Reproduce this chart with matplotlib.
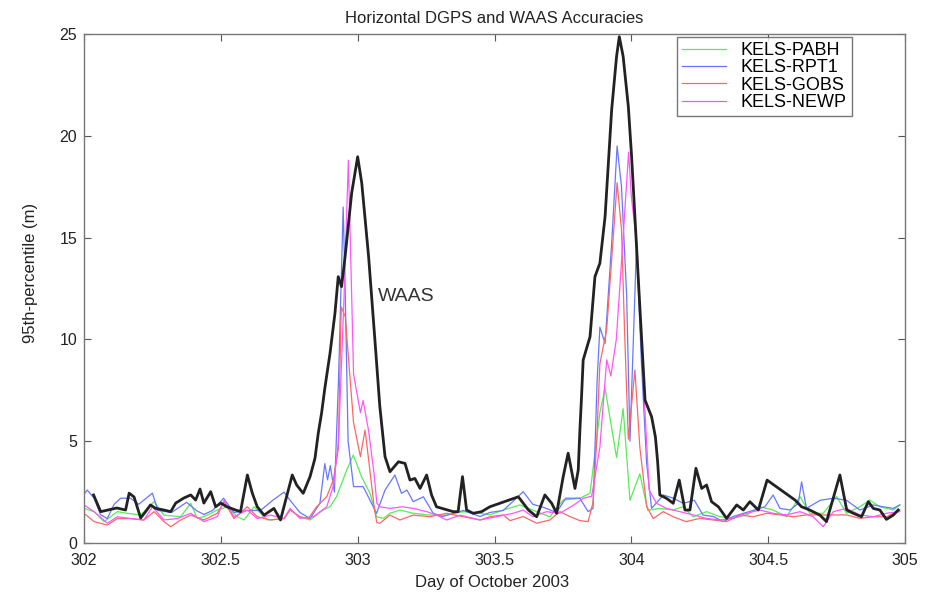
import matplotlib
matplotlib.use("Agg")
import matplotlib.pyplot as plt

plt.rcParams['font.family'] = ['Liberation Sans', 'DejaVu Sans']

# ---------------- data ----------------
waas_t = [302.035, 302.061, 302.12, 302.152, 302.165, 302.183, 302.207, 302.225, 302.243, 302.262,
          302.292, 302.317, 302.335, 302.365, 302.39, 302.408, 302.424, 302.438, 302.463, 302.481,
          302.5, 302.522, 302.554, 302.572, 302.597, 302.615, 302.633, 302.658, 302.694, 302.718,
          302.761, 302.777, 302.801, 302.826, 302.844, 302.856, 302.868, 302.88, 302.899, 302.917,
          302.929, 302.941, 302.954, 302.978, 303.0, 303.015, 303.04, 303.063, 303.081, 303.1,
          303.118, 303.149, 303.173, 303.191, 303.209, 303.228, 303.252, 303.27, 303.288, 303.349,
          303.367, 303.383, 303.398, 303.422, 303.453, 303.483, 303.587, 303.624, 303.654, 303.684,
          303.709, 303.727, 303.751, 303.769, 303.794, 303.806, 303.812, 303.818, 303.824, 303.849,
          303.867, 303.885, 303.904, 303.928, 303.946, 303.956, 303.97, 303.989, 304.001, 304.013,
          304.031, 304.05, 304.074, 304.088, 304.096, 304.104, 304.129, 304.153, 304.175, 304.196,
          304.214, 304.236, 304.257, 304.275, 304.293, 304.318, 304.348, 304.385, 304.409, 304.433,
          304.464, 304.496, 304.598, 304.622, 304.652, 304.689, 304.713, 304.762, 304.787, 304.811,
          304.841, 304.866, 304.884, 304.908, 304.932, 304.957, 304.975]
waas_v = [2.36, 1.54, 1.72, 1.62, 2.45, 2.26, 1.23, 1.54, 1.87, 1.70,
          1.62, 1.54, 1.96, 2.21, 2.36, 2.11, 2.65, 1.96, 2.52, 1.78,
          1.96, 1.78, 1.62, 1.54, 3.34, 2.45, 1.78, 1.37, 1.70, 1.13,
          3.34, 2.85, 2.44, 3.26, 4.16, 5.39, 6.37, 7.6, 9.32, 11.28,
          13.08, 12.59, 14.06, 17.18, 18.97, 17.67, 14.06, 9.97, 6.70, 4.24,
          3.50, 3.99, 3.91, 3.09, 3.17, 2.68, 3.34, 2.36, 1.78, 1.54,
          1.54, 3.26, 1.62, 1.46, 1.54, 1.78, 2.27, 1.62, 1.29, 2.36,
          1.95, 1.46, 3.26, 4.41, 2.68, 3.59, 5.55, 7.19, 8.99, 10.13,
          13.08, 13.74, 16.03, 21.27, 23.9, 24.87, 23.9, 21.43, 18.97, 16.03,
          11.6, 7.02, 6.2, 5.2, 4.0, 2.36, 2.19, 1.95, 3.09, 1.62,
          1.62, 3.67, 2.68, 2.85, 2.03, 1.78, 1.21, 1.87, 1.62, 2.03,
          1.62, 3.09, 2.11, 1.78, 1.62, 1.37, 1.05, 3.34, 1.62, 1.46,
          1.29, 2.03, 1.70, 1.62, 1.16, 1.37, 1.62]

pabh_t = [302.0, 302.037, 302.073, 302.122, 302.158, 302.207, 302.256, 302.292, 302.353, 302.39,
          302.414, 302.451, 302.487, 302.524, 302.56, 302.585, 302.621, 302.67, 302.731, 302.753,
          302.789, 302.826, 302.874, 302.899, 302.923, 302.96, 302.984, 303.014, 303.045, 303.069,
          303.094, 303.118, 303.154, 303.203, 303.264, 303.325, 303.386, 303.447, 303.483, 303.532,
          303.593, 303.654, 303.702, 303.751, 303.812, 303.849, 303.885, 303.904, 303.946, 303.97,
          303.995, 304.031, 304.06, 304.104, 304.153, 304.189, 304.226, 304.275, 304.323, 304.372,
          304.421, 304.47, 304.518, 304.567, 304.616, 304.652, 304.701, 304.75, 304.786, 304.835,
          304.871, 304.908, 304.957, 304.981]
pabh_v = [1.70, 1.54, 1.05, 1.54, 1.46, 1.37, 2.03, 1.37, 1.29, 1.95,
          1.20, 1.37, 1.62, 1.78, 1.29, 1.13, 1.78, 1.13, 1.20, 1.62,
          1.29, 1.13, 1.62, 1.78, 2.28, 3.59, 4.32, 3.26, 2.44, 1.29,
          1.21, 1.46, 1.62, 1.46, 1.37, 1.37, 1.54, 1.46, 1.38, 1.62,
          1.87, 1.54, 1.29, 2.11, 2.20, 2.44, 6.4, 7.6, 4.2, 6.6,
          2.1, 3.4, 1.6, 1.70, 1.62, 1.78, 1.29, 1.54, 1.29, 1.21,
          1.38, 1.78, 1.62, 1.29, 2.28, 1.46, 1.46, 2.28, 1.46, 1.78,
          2.11, 1.78, 1.62, 1.87]

rpt1_t = [302.0, 302.012, 302.037, 302.06, 302.085, 302.11, 302.134, 302.17, 302.2, 302.25,
          302.27, 302.32, 302.375, 302.41, 302.438, 302.47, 302.51, 302.548, 302.6, 302.645,
          302.69, 302.731, 302.753, 302.789, 302.826, 302.862, 302.88, 302.89, 302.9, 302.915,
          302.93, 302.947, 302.955, 302.965, 302.985, 303.02, 303.069, 303.1, 303.136, 303.16,
          303.18, 303.203, 303.24, 303.276, 303.31, 303.386, 303.447, 303.483, 303.532, 303.605,
          303.64, 303.673, 303.727, 303.76, 303.812, 303.842, 303.86, 303.875, 303.885, 303.904,
          303.928, 303.948, 303.964, 303.983, 303.995, 304.019, 304.037, 304.056, 304.074, 304.117,
          304.153, 304.19, 304.23, 304.262, 304.3, 304.336, 304.372, 304.41, 304.45, 304.488,
          304.518, 304.543, 304.58, 304.61, 304.622, 304.64, 304.69, 304.74, 304.786, 304.835,
          304.884, 304.92, 304.957, 304.981]
rpt1_v = [2.4, 2.6, 2.2, 1.4, 1.2, 1.9, 2.2, 2.2, 1.9, 2.45,
          1.6, 1.5, 2.0, 1.6, 1.4, 1.6, 2.2, 1.5, 1.6, 1.6,
          2.1, 2.5, 2.1, 1.5, 1.2, 1.95, 3.9, 3.1, 3.8, 2.5,
          8.0, 16.5, 12.0, 5.0, 2.77, 2.77, 1.46, 2.6, 3.34, 2.44,
          2.6, 2.03, 2.27, 1.46, 1.3, 1.6, 1.3, 1.5, 1.6, 2.52,
          1.9, 1.78, 1.5, 2.2, 2.2, 1.54, 1.7, 8.0, 10.6, 9.8,
          14.7, 19.5, 17.5, 12.1, 5.0, 14.7, 8.8, 3.9, 1.7, 2.36,
          2.2, 1.95, 2.1, 1.37, 1.3, 1.05, 1.3, 1.46, 1.62, 1.78,
          2.36, 1.7, 1.62, 1.95, 3.0, 1.7, 2.1, 2.2, 2.1, 1.62,
          1.87, 1.78, 1.7, 1.87]

gobs_t = [302.0, 302.037, 302.085, 302.122, 302.17, 302.219, 302.256, 302.292, 302.317, 302.353,
          302.39, 302.438, 302.487, 302.512, 302.548, 302.597, 302.633, 302.682, 302.731, 302.753,
          302.789, 302.82, 302.85, 302.887, 302.911, 302.929, 302.94, 302.955, 302.966, 302.985,
          303.01, 303.027, 303.04, 303.06, 303.07, 303.081, 303.118, 303.154, 303.203, 303.264,
          303.325, 303.386, 303.447, 303.483, 303.532, 303.557, 303.605, 303.654, 303.702, 303.739,
          303.775, 303.812, 303.842, 303.86, 303.873, 303.885, 303.91, 303.948, 303.964, 303.975,
          303.989, 304.013, 304.031, 304.056, 304.08, 304.116, 304.153, 304.2, 304.25, 304.299,
          304.348, 304.397, 304.445, 304.494, 304.543, 304.592, 304.64, 304.689, 304.738, 304.786,
          304.835, 304.884, 304.932, 304.981]
gobs_v = [1.46, 1.05, 0.88, 1.2, 1.2, 1.13, 1.54, 1.05, 0.8, 1.13,
          1.37, 1.13, 1.46, 2.03, 1.2, 1.78, 1.29, 1.13, 1.2, 1.62,
          1.29, 1.21, 1.78, 2.28, 3.1, 4.6, 11.6, 11.1, 9.15, 5.9,
          4.24, 5.55, 4.1, 1.8, 1.0, 0.97, 1.37, 1.13, 1.37, 1.29,
          1.46, 1.29, 1.13, 1.29, 1.38, 1.1, 1.3, 0.97, 1.13, 1.54,
          1.3, 1.1, 1.05, 2.0, 4.9, 8.8, 10.5, 17.7, 15.4, 10.5,
          5.1, 8.5, 4.7, 1.8, 1.2, 1.54, 1.29, 1.05, 1.21, 1.13,
          1.05, 1.38, 1.29, 1.46, 1.38, 1.29, 1.38, 1.38, 1.38, 1.38,
          1.21, 1.29, 1.29, 1.62]

newp_t = [302.0, 302.037, 302.085, 302.122, 302.17, 302.219, 302.25, 302.292, 302.341, 302.39,
          302.438, 302.487, 302.512, 302.548, 302.597, 302.633, 302.682, 302.731, 302.753, 302.789,
          302.838, 302.887, 302.911, 302.93, 302.95, 302.966, 302.985, 303.01, 303.02, 303.04,
          303.06, 303.07, 303.081, 303.118, 303.165, 303.203, 303.252, 303.288, 303.325, 303.374,
          303.422, 303.447, 303.507, 303.568, 303.605, 303.64, 303.69, 303.739, 303.79, 303.825,
          303.855, 303.885, 303.91, 303.925, 303.945, 303.965, 303.99, 304.0, 304.02, 304.035,
          304.05, 304.065, 304.092, 304.128, 304.177, 304.226, 304.275, 304.323, 304.372, 304.421,
          304.47, 304.518, 304.567, 304.616, 304.664, 304.701, 304.738, 304.786, 304.835, 304.884,
          304.932, 304.981]
newp_v = [1.87, 1.54, 0.97, 1.29, 1.2, 1.13, 1.78, 1.13, 1.2, 1.46,
          1.05, 1.29, 2.11, 1.29, 1.62, 1.2, 1.37, 1.2, 1.70, 1.21,
          1.29, 1.78, 2.8, 5.0, 12.0, 18.8, 8.3, 6.4, 7.0, 5.5,
          3.4, 1.96, 1.78, 1.70, 1.78, 1.70, 1.54, 1.37, 1.13, 1.37,
          1.21, 1.13, 1.29, 1.46, 1.62, 1.29, 1.54, 1.46, 1.87, 2.2,
          2.3, 4.7, 9.0, 8.2, 10.0, 14.0, 19.2, 17.0, 14.7, 10.5,
          6.4, 2.6, 1.95, 1.70, 1.54, 1.38, 1.21, 1.13, 1.21, 1.46,
          1.62, 1.46, 1.38, 1.54, 1.29, 0.8, 1.54, 1.70, 1.38, 1.29,
          1.46, 1.54]

x_ticks = [302, 302.5, 303, 303.5, 304, 304.5, 305]
x_tick_labels = ["302", "302.5", "303", "303.5", "304", "304.5", "305"]
y_ticks = [0, 5, 10, 15, 20, 25]

# ---------------- plot ----------------
fig = plt.figure(figsize=(9.27, 5.93), dpi=100)
ax = fig.add_axes([0.0906, 0.0843, 0.8857, 0.8584])

ax.plot(pabh_t, pabh_v, color='#55ee55', lw=0.9, label='KELS-PABH')
ax.plot(rpt1_t, rpt1_v, color='#6677ff', lw=0.9, label='KELS-RPT1')
ax.plot(gobs_t, gobs_v, color='#ff6666', lw=0.9, label='KELS-GOBS')
ax.plot(newp_t, newp_v, color='#ff55ff', lw=0.9, label='KELS-NEWP')
ax.plot(waas_t, waas_v, color='#222222', lw=2.0)

ax.text(303.074, 12.1, 'WAAS', fontsize=14, ha='left', va='center', color='#333333')

ax.set_xlim(302, 305)
ax.set_ylim(0, 25)
ax.set_xticks(x_ticks)
ax.set_xticklabels(x_tick_labels)
ax.set_yticks(y_ticks)
ax.tick_params(direction='in', top=True, right=True, labelsize=11.5, length=5,
               color='#555555', labelcolor='#222222')
ax.tick_params(axis='x', pad=7)
ax.tick_params(axis='y', pad=5)
for s in ax.spines.values():
    s.set_color('#777777')
    s.set_linewidth(1.0)

ax.set_title('Horizontal DGPS and WAAS Accuracies', fontsize=12, color='#222222', pad=8)
ax.set_xlabel('Day of October 2003', fontsize=12, color='#222222')
ax.xaxis.set_label_coords(0.497, -0.062)
ax.set_ylabel('95th-percentile (m)', fontsize=12, color='#222222')
ax.yaxis.set_label_coords(-0.056, 0.53)

leg = ax.legend(loc='upper right', bbox_to_anchor=(0.935, 0.995), fontsize=13,
                frameon=True, fancybox=False, edgecolor='#555555', handlelength=2.4,
                borderpad=0.3, labelspacing=0.02, handletextpad=0.8, borderaxespad=0.0)
leg.get_frame().set_linewidth(1.0)

fig.savefig('out.png', dpi=100)
